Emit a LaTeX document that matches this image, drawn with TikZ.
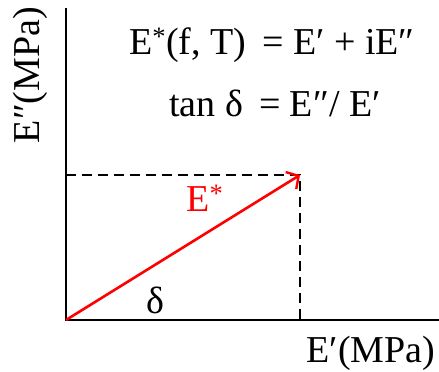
\documentclass[tikz,border=0pt]{standalone}
\usepackage{fontspec}
\setmainfont{Liberation Serif}
\usetikzlibrary{arrows.meta}
\begin{document}
\begin{tikzpicture}[x=1pt,y=-1pt,
  axis/.style={line width=2.8pt},
  guide/.style={line width=2.2pt,dash pattern=on 10pt off 6pt},
  vec/.style={line width=2.6pt,red,-{Straight Barb[length=9pt,width=20pt,line width=2.4pt]}},
  lbl/.style={font=\fontsize{38}{42}\selectfont,inner sep=0pt}]
\useasboundingbox (0,0) rectangle (439,372);
\coordinate (O) at (66,320);
\coordinate (Ytop) at (66,8);
\coordinate (Xend) at (439,320);
\coordinate (P) at (300,175);
\coordinate (Py) at (66,175);
\coordinate (Px) at (300,320);
\draw[axis] (Ytop) -- (O) -- (Xend);
\draw[guide] (Py) -- (P) -- (Px);
\draw[vec] (O) -- (P);
\node[lbl] (eq1) at (272,45) {E\textsuperscript{*}(f, T)\, = E′ + iE″};
\node[lbl] (eq2) at (275,103) {tan δ\, = E″/ E′};
\node[lbl,red] (estar) at (205,198) {E\textsuperscript{*}};
\node[lbl] (delta) at (155,300) {δ};
\node[lbl] (xl) at (371,353) {E′(MPa)};
\node[lbl,rotate=90] (yl) at (30,75) {E″(MPa)};
\end{tikzpicture}
\end{document}
